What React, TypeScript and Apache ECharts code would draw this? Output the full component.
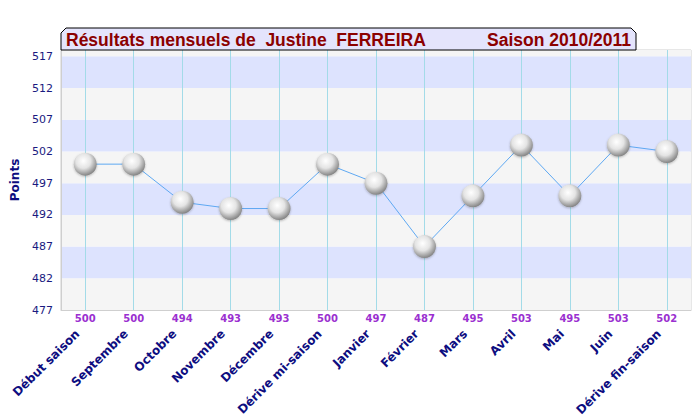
import React, { useEffect, useRef } from "react";
import * as echarts from "echarts";

const categories = [
  "Début saison", "Septembre", "Octobre", "Novembre", "Décembre", "Dérive mi-saison",
  "Janvier", "Février", "Mars", "Avril", "Mai", "Juin", "Dérive fin-saison",
];
const points = [500, 500, 494, 493, 493, 500, 497, 487, 495, 503, 495, 503, 502];
const titleLeft = "Résultats mensuels de  Justine  FERREIRA";
const titleRight = "Saison 2010/2011";
const yAxisName = "Points";
const yMin = 477;
const yMax = 518;
const yStep = 5;

export default function App() {
  const ref = useRef<HTMLDivElement>(null);
  useEffect(() => {
    document.body.style.margin = "0";
    const chart = echarts.init(ref.current!, null, { renderer: "svg" });
    const sphere = {
      type: "radial",
      x: 0.42,
      y: 0.36,
      r: 0.64,
      colorStops: [
        { offset: 0, color: "#ffffff" },
        { offset: 0.5, color: "#e4e4e4" },
        { offset: 1, color: "#858585" },
      ],
    };
    const catFont = {
      color: "#0d0d80",
      fontFamily: "'DejaVu Sans', Verdana, sans-serif",
      fontWeight: "bold",
      fontSize: 12,
    };
    chart.setOption({
      animation: false,
      grid: {
        left: 61,
        right: 9,
        top: 50,
        bottom: 110,
        show: true,
        borderColor: "#cfcfcf",
        borderWidth: 1,
        backgroundColor: "transparent",
      },
      graphic: [
        {
          type: "polygon",
          z: 100,
          shape: {
            points: [[61, 50], [61, 33], [66, 28], [631, 28], [636, 33], [636, 50]],
          },
          style: { fill: "#e4e4fc", stroke: "#000000", lineWidth: 1 },
        },
        {
          type: "text",
          z: 101,
          x: 66,
          y: 40,
          style: {
            text: titleLeft,
            fill: "#8b0000",
            font: "bold 17.5px 'Liberation Sans', Arial, sans-serif",
            verticalAlign: "middle",
          },
        },
        {
          type: "text",
          z: 101,
          x: 631,
          y: 40,
          style: {
            text: titleRight,
            fill: "#8b0000",
            font: "bold 17.5px 'Liberation Sans', Arial, sans-serif",
            align: "right",
            verticalAlign: "middle",
          },
        },
      ],
      xAxis: [
        {
          type: "category",
          data: categories,
          boundaryGap: true,
          position: "bottom",
          axisLine: { show: true, lineStyle: { color: "#cfcfcf" } },
          axisTick: { show: false },
          splitLine: { show: false },
          axisLabel: {
            interval: 0,
            rotate: 45,
            margin: 14,
            ...catFont,
            formatter: (v: string) => `{a|${v}}`,
            rich: { a: { ...catFont, padding: [0, 11, 0, 0] } },
          },
        },
        {
          type: "category",
          data: points.map((v) => String(v)),
          boundaryGap: true,
          position: "bottom",
          offset: 0,
          axisLine: { show: false },
          axisTick: { show: false },
          splitLine: { show: false },
          axisLabel: {
            interval: 0,
            margin: 3,
            color: "#9b30d0",
            fontFamily: "'DejaVu Sans', Verdana, sans-serif",
            fontWeight: "bold",
            fontSize: 10,
          },
        },
      ],
      yAxis: {
        type: "value",
        min: yMin,
        max: yMax,
        interval: yStep,
        name: yAxisName,
        nameLocation: "middle",
        nameGap: 40,
        nameTextStyle: {
          color: "#0d0d80",
          fontFamily: "'DejaVu Sans', Verdana, sans-serif",
          fontWeight: "bold",
          fontSize: 12,
        },
        axisLine: { show: true, lineStyle: { color: "#cfcfcf" } },
        axisTick: { show: false },
        axisLabel: {
          showMaxLabel: false,
          margin: 8,
          color: "#1a1a80",
          fontFamily: "'DejaVu Sans', Verdana, sans-serif",
          fontSize: 11,
        },
        splitLine: { show: false },
        splitArea: { show: true, areaStyle: { color: ["#f5f5f5", "#dde3fe"] } },
      },
      series: [
        {
          type: "line",
          data: points,
          xAxisIndex: 0,
          yAxisIndex: 0,
          symbol: "circle",
          symbolSize: 23,
          lineStyle: { color: "#5ea8f2", width: 1 },
          itemStyle: {
            color: sphere,
            borderWidth: 0,
            shadowColor: "rgba(0,0,0,0.25)",
            shadowBlur: 2,
            shadowOffsetY: 1,
          },
          label: { show: false },
          markLine: {
            silent: true,
            z: 1,
            symbol: "none",
            label: { show: false },
            lineStyle: { color: "#a3dbe8", width: 1, type: "solid" },
            data: categories.map((c) => ({ xAxis: c })),
          },
        },
      ],
    });
    return () => chart.dispose();
  }, []);
  return <div ref={ref} style={{ width: 700, height: 420 }} />;
}
